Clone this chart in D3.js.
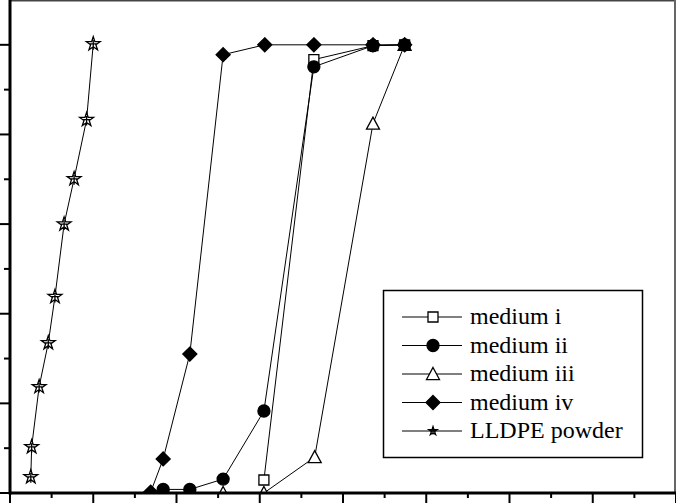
<!DOCTYPE html>
<html>
<head>
    <meta charset="utf-8">
    <title>Chart</title>
    <script src="https://cdnjs.cloudflare.com/ajax/libs/d3/7.8.5/d3.min.js"></script>
    <style>
        body { margin: 0; background: #fff; }
        svg { display: block; }
    </style>
</head>
<body>
<svg id="chart" width="676" height="503"></svg>
<script>
// data
var names = ["medium i", "medium ii", "medium iii", "medium iv", "LLDPE powder"];
var shapes = ["square", "circle", "triangle", "diamond", "star"];

var xMediumI   = [30.5, 36.5, 43.6, 47.4];
var yMediumI   = [2.9, 96.7, 99.8, 100];
var xMediumII  = [18.4, 21.6, 25.6, 30.5, 36.5, 43.6, 47.4];
var yMediumII  = [0.8, 0.8, 3.1, 18.3, 95.1, 99.8, 100];
var xMediumIII = [18.4, 21.6, 25.6, 30.5, 36.6, 43.6, 47.4];
var yMediumIII = [0, 0, 0, 0, 8.0, 82.4, 100];
var xMediumIV  = [16.9, 18.4, 21.6, 25.6, 30.6, 36.5, 43.6, 47.4];
var yMediumIV  = [0.2, 7.6, 31.0, 97.8, 100, 100, 100, 100];
var xPowder    = [2.5, 2.6, 3.5, 4.6, 5.4, 6.5, 7.7, 9.2, 10.0];
var yPowder    = [3.6, 10.3, 23.7, 33.5, 43.8, 60.0, 70.1, 83.3, 100.2];

var xs = [xMediumI, xMediumII, xMediumIII, xMediumIV, xPowder];
var ys = [yMediumI, yMediumII, yMediumIII, yMediumIV, yPowder];

var svg = d3.select("#chart");
var W = 676, H = 503;
var left = 10, bottom = 493;

var x = d3.scaleLinear().domain([0, 80]).range([left, 676]);
var y = d3.scaleLinear().domain([0, 110]).range([bottom, 0]);

// frame
svg.append("line").attr("x1", left).attr("x2", W).attr("y1", 0.5).attr("y2", 0.5)
    .attr("stroke", "#444").attr("stroke-width", 2);
svg.append("line").attr("x1", 675).attr("x2", 675).attr("y1", 0).attr("y2", bottom)
    .attr("stroke", "#666").attr("stroke-width", 2);

svg.append("clipPath").attr("id", "plot")
    .append("rect").attr("x", left).attr("y", 0).attr("width", W - left).attr("height", bottom);

// marker shapes
function symbolPath(shape, s) {
    if (shape == "square") return d3.symbol(d3.symbolSquare, s * s)();
    if (shape == "circle") return d3.symbol(d3.symbolCircle, Math.PI * s * s / 4)();
    if (shape == "triangle") {
        var h = s * 0.85;
        return "M0," + (-h / 2 - 1) + "L" + (s / 2) + "," + (h / 2) + "L" + (-s / 2) + "," + (h / 2) + "Z";
    }
    if (shape == "diamond") {
        var r = s / 2;
        return "M0," + (-r) + "L" + r + ",0L0," + r + "L" + (-r) + ",0Z";
    }
    // star with inner cross
    var p = d3.symbol(d3.symbolStar, s * s * 0.35)();
    var c = s * 0.28;
    return p + "M" + (-c) + ",0L" + c + ",0M0," + (-c) + "L0," + (c * 1.6);
}
var fills = ["#fff", "#000", "#fff", "#000", "#fff"];
var sizes = [10, 12, 13, 14, 13];

var g = svg.append("g").attr("clip-path", "url(#plot)");
var line = d3.line().x(function (d) { return x(d[0]); }).y(function (d) { return y(d[1]); });

// drawing order: triangles at the back, circles on top
var order = [2, 0, 4, 3, 1];
order.forEach(function (k) {
    var pts = xs[k].map(function (v, i) { return [v, ys[k][i]]; });
    g.append("path").datum(pts).attr("d", line)
        .attr("fill", "none").attr("stroke", "#000").attr("stroke-width", 1);
});
order.forEach(function (k) {
    var pts = xs[k].map(function (v, i) { return [v, ys[k][i]]; });
    g.selectAll(null).data(pts).enter().append("path")
        .attr("transform", function (d) { return "translate(" + x(d[0]) + "," + y(d[1]) + ")"; })
        .attr("d", symbolPath(shapes[k], sizes[k]))
        .attr("fill", fills[k]).attr("stroke", "#000").attr("stroke-width", 1.3);
});

// axes
var xAxis = svg.append("g").attr("transform", "translate(0," + bottom + ")");
xAxis.append("line").attr("x1", left - 1).attr("x2", W).attr("stroke", "#000").attr("stroke-width", 3);
xAxis.selectAll(".tk").data(d3.range(0, 81, 5)).enter().append("line")
    .attr("x1", function (d) { return x(d); }).attr("x2", function (d) { return x(d); })
    .attr("y1", 0).attr("y2", function (d) { return d % 10 == 0 ? 11 : 5; })
    .attr("stroke", "#000").attr("stroke-width", 2);

var yAxis = svg.append("g").attr("transform", "translate(" + left + ",0)");
yAxis.append("line").attr("y1", 0).attr("y2", bottom + 1.5).attr("stroke", "#000").attr("stroke-width", 3);
yAxis.selectAll(".tk").data(d3.range(0, 101, 10)).enter().append("line")
    .attr("y1", function (d) { return y(d); }).attr("y2", function (d) { return y(d); })
    .attr("x1", 0).attr("x2", function (d) { return d % 20 == 0 ? -11 : -6; })
    .attr("stroke", "#000").attr("stroke-width", 2);

// legend
var legend = svg.append("g");
legend.append("rect").attr("x", 383.5).attr("y", 290.5).attr("width", 259).attr("height", 167)
    .attr("fill", "#fff").attr("stroke", "#000").attr("stroke-width", 1.5);
var lsizes = [10, 12, 13, 14, 8];
names.forEach(function (n, k) {
    var cy = 317 + k * 28.5;
    legend.append("line").attr("x1", 402).attr("x2", 462).attr("y1", cy).attr("y2", cy)
        .attr("stroke", "#000").attr("stroke-width", 1);
    legend.append("path").attr("transform", "translate(433," + cy + ")")
        .attr("d", symbolPath(shapes[k], lsizes[k]))
        .attr("fill", fills[k]).attr("stroke", "#000").attr("stroke-width", 1.3);
    legend.append("text").attr("x", 470).attr("y", cy + 7)
        .attr("font-family", "'Liberation Serif', 'Times New Roman', Times, serif")
        .attr("font-size", 24)
        .text(n);
});
</script>
</body>
</html>
